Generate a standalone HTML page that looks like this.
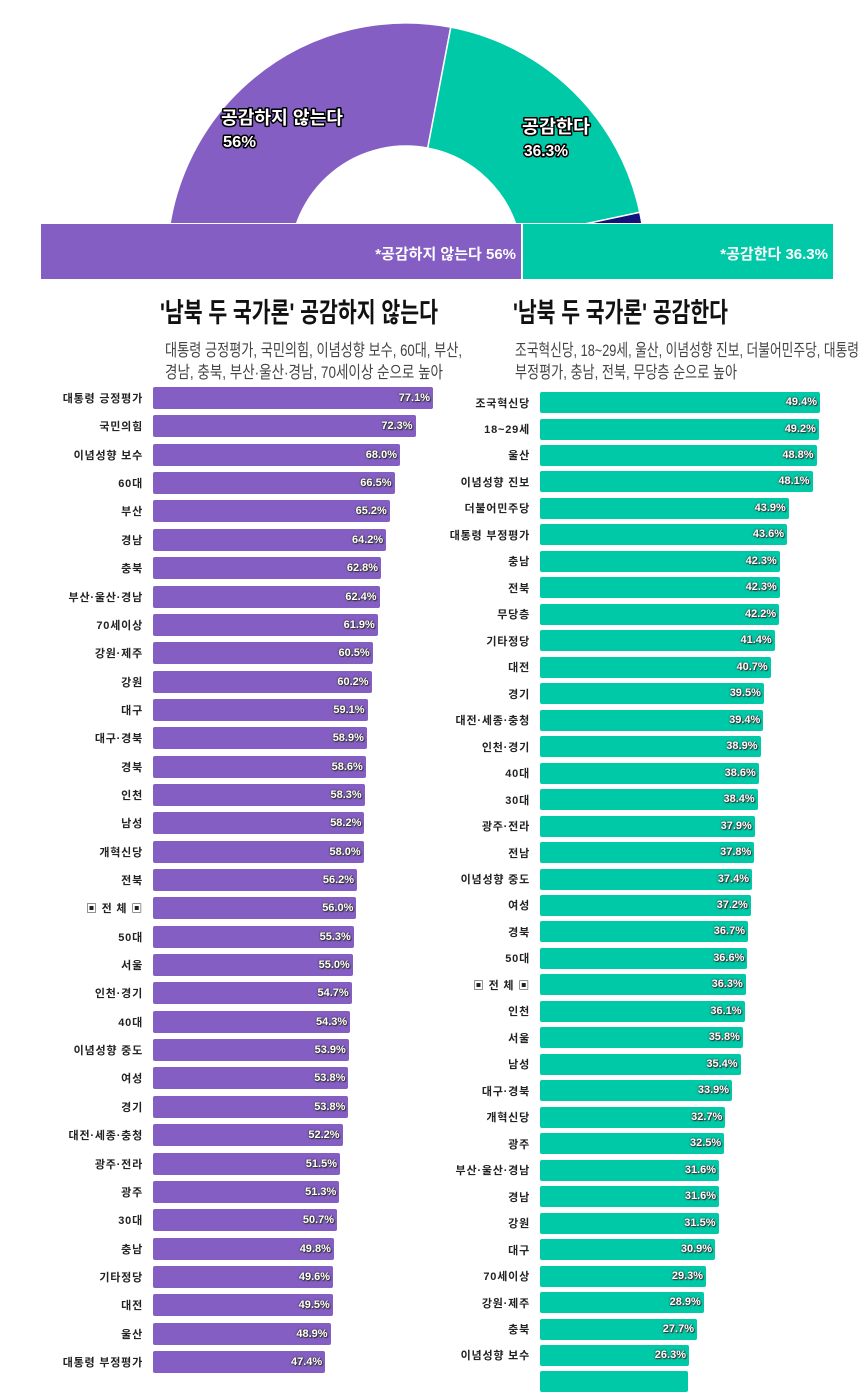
<!DOCTYPE html>
<html><head><meta charset="utf-8"><style>
body{margin:0;width:865px;height:1384px;overflow:hidden;background:#fff;position:relative;font-family:"Liberation Sans","Noto Sans CJK KR",sans-serif}
.r{position:absolute;height:22px;display:flex;align-items:center}
.L{left:0}.R{left:430px}
.lb{display:inline-block;text-align:right;font-size:11px;font-weight:bold;color:#222;letter-spacing:0.8px;margin-right:10px}
.L .lb{width:143px}.R .lb{width:100px}
.r b{display:inline-block;height:22px;line-height:22px;border-radius:2px;text-align:right;box-sizing:border-box;padding-right:3px;font-size:11px;color:#fff;text-shadow:0 0 1px #333,0 0 2px #333,1px 1px 1px #333}
.L b{background:#845ec2}.R b{background:#00c9a7;height:21px;line-height:21px}
</style></head><body>
<svg width="865" height="380" style="position:absolute;left:0;top:0" font-family="Liberation Sans, Noto Sans CJK KR, sans-serif">
<defs><clipPath id="c"><rect x="0" y="0" width="865" height="223"/></clipPath></defs>
<g clip-path="url(#c)" stroke="#fff" stroke-width="1.5">
<path d="M167,262 A239,239 0 0 1 450.8,27.2 L427.7,148.1 A116,116 0 0 0 290,262 Z" fill="#845ec2"/>
<path d="M450.8,27.2 A239,239 0 0 1 639.8,212.3 L519.5,237.9 A116,116 0 0 0 427.7,148.1 Z" fill="#00c9a7"/>
<path d="M639.8,212.3 A239,239 0 0 1 645,262 L522,262 A116,116 0 0 0 519.5,237.9 Z" fill="#14107a"/>
</g>
<g font-weight="bold" fill="#fff" stroke="#000" stroke-width="3" paint-order="stroke" stroke-linejoin="round">
<text x="221" y="124" font-size="18" textLength="122" lengthAdjust="spacingAndGlyphs">공감하지 않는다</text>
<text x="223" y="147" font-size="16" textLength="33" lengthAdjust="spacingAndGlyphs">56%</text>
<text x="522" y="133" font-size="18" textLength="68" lengthAdjust="spacingAndGlyphs">공감한다</text>
<text x="524" y="156" font-size="16" textLength="44" lengthAdjust="spacingAndGlyphs">36.3%</text>
</g>
<rect x="41" y="224" width="480" height="55" fill="#845ec2"/>
<rect x="523" y="224" width="310" height="55" fill="#00c9a7"/>
<text x="516" y="259" font-size="15" font-weight="bold" fill="#fff" text-anchor="end">*공감하지 않는다 56%</text>
<text x="828" y="259" font-size="15" font-weight="bold" fill="#fff" text-anchor="end">*공감한다 36.3%</text>
<text x="160" y="322" font-size="27" font-weight="bold" fill="#111" textLength="278" lengthAdjust="spacingAndGlyphs">'남북 두 국가론' 공감하지 않는다</text>
<text x="165" y="356" font-size="17" fill="#444" textLength="297" lengthAdjust="spacingAndGlyphs">대통령 긍정평가, 국민의힘, 이념성향 보수, 60대, 부산,</text>
<text x="165" y="378" font-size="17" fill="#444" textLength="278" lengthAdjust="spacingAndGlyphs">경남, 충북, 부산·울산·경남, 70세이상 순으로 높아</text>
<text x="513" y="322" font-size="27" font-weight="bold" fill="#111" textLength="215" lengthAdjust="spacingAndGlyphs">'남북 두 국가론' 공감한다</text>
<text x="515" y="356" font-size="17" fill="#444" textLength="344" lengthAdjust="spacingAndGlyphs">조국혁신당, 18~29세, 울산, 이념성향 진보, 더불어민주당, 대통령</text>
<text x="515" y="378" font-size="17" fill="#444" textLength="222" lengthAdjust="spacingAndGlyphs">부정평가, 충남, 전북, 무당층 순으로 높아</text>
</svg>

<div class="r L" style="top:387px"><span class="lb">대통령 긍정평가</span><b style="width:280px">77.1%</b></div>
<div class="r L" style="top:415.4px"><span class="lb">국민의힘</span><b style="width:262.6px">72.3%</b></div>
<div class="r L" style="top:443.7px"><span class="lb">이념성향 보수</span><b style="width:247px">68.0%</b></div>
<div class="r L" style="top:472.1px"><span class="lb">60대</span><b style="width:241.5px">66.5%</b></div>
<div class="r L" style="top:500.4px"><span class="lb">부산</span><b style="width:236.8px">65.2%</b></div>
<div class="r L" style="top:528.8px"><span class="lb">경남</span><b style="width:233.2px">64.2%</b></div>
<div class="r L" style="top:557.1px"><span class="lb">충북</span><b style="width:228.1px">62.8%</b></div>
<div class="r L" style="top:585.5px"><span class="lb">부산·울산·경남</span><b style="width:226.6px">62.4%</b></div>
<div class="r L" style="top:613.8px"><span class="lb">70세이상</span><b style="width:224.8px">61.9%</b></div>
<div class="r L" style="top:642.2px"><span class="lb">강원·제주</span><b style="width:219.7px">60.5%</b></div>
<div class="r L" style="top:670.5px"><span class="lb">강원</span><b style="width:218.6px">60.2%</b></div>
<div class="r L" style="top:698.9px"><span class="lb">대구</span><b style="width:214.6px">59.1%</b></div>
<div class="r L" style="top:727.2px"><span class="lb">대구·경북</span><b style="width:213.9px">58.9%</b></div>
<div class="r L" style="top:755.6px"><span class="lb">경북</span><b style="width:212.8px">58.6%</b></div>
<div class="r L" style="top:783.9px"><span class="lb">인천</span><b style="width:211.7px">58.3%</b></div>
<div class="r L" style="top:812.3px"><span class="lb">남성</span><b style="width:211.4px">58.2%</b></div>
<div class="r L" style="top:840.6px"><span class="lb">개혁신당</span><b style="width:210.7px">58.0%</b></div>
<div class="r L" style="top:869px"><span class="lb">전북</span><b style="width:204.1px">56.2%</b></div>
<div class="r L" style="top:897.3px"><span class="lb">▣ 전 체 ▣</span><b style="width:203.4px">56.0%</b></div>
<div class="r L" style="top:925.7px"><span class="lb">50대</span><b style="width:200.8px">55.3%</b></div>
<div class="r L" style="top:954px"><span class="lb">서울</span><b style="width:199.8px">55.0%</b></div>
<div class="r L" style="top:982.4px"><span class="lb">인천·경기</span><b style="width:198.7px">54.7%</b></div>
<div class="r L" style="top:1010.7px"><span class="lb">40대</span><b style="width:197.2px">54.3%</b></div>
<div class="r L" style="top:1039.1px"><span class="lb">이념성향 중도</span><b style="width:195.8px">53.9%</b></div>
<div class="r L" style="top:1067.4px"><span class="lb">여성</span><b style="width:195.4px">53.8%</b></div>
<div class="r L" style="top:1095.8px"><span class="lb">경기</span><b style="width:195.4px">53.8%</b></div>
<div class="r L" style="top:1124.1px"><span class="lb">대전·세종·충청</span><b style="width:189.6px">52.2%</b></div>
<div class="r L" style="top:1152.5px"><span class="lb">광주·전라</span><b style="width:187px">51.5%</b></div>
<div class="r L" style="top:1180.8px"><span class="lb">광주</span><b style="width:186.3px">51.3%</b></div>
<div class="r L" style="top:1209.2px"><span class="lb">30대</span><b style="width:184.1px">50.7%</b></div>
<div class="r L" style="top:1237.5px"><span class="lb">충남</span><b style="width:180.9px">49.8%</b></div>
<div class="r L" style="top:1265.9px"><span class="lb">기타정당</span><b style="width:180.1px">49.6%</b></div>
<div class="r L" style="top:1294.2px"><span class="lb">대전</span><b style="width:179.8px">49.5%</b></div>
<div class="r L" style="top:1322.6px"><span class="lb">울산</span><b style="width:177.6px">48.9%</b></div>
<div class="r L" style="top:1350.9px"><span class="lb">대통령 부정평가</span><b style="width:172.2px">47.4%</b></div>

<div class="r R" style="top:391.5px"><span class="lb">조국혁신당</span><b style="width:280px">49.4%</b></div>
<div class="r R" style="top:418px"><span class="lb">18~29세</span><b style="width:278.9px">49.2%</b></div>
<div class="r R" style="top:444.4px"><span class="lb">울산</span><b style="width:276.6px">48.8%</b></div>
<div class="r R" style="top:470.9px"><span class="lb">이념성향 진보</span><b style="width:272.6px">48.1%</b></div>
<div class="r R" style="top:497.4px"><span class="lb">더불어민주당</span><b style="width:248.8px">43.9%</b></div>
<div class="r R" style="top:523.9px"><span class="lb">대통령 부정평가</span><b style="width:247.1px">43.6%</b></div>
<div class="r R" style="top:550.3px"><span class="lb">충남</span><b style="width:239.8px">42.3%</b></div>
<div class="r R" style="top:576.8px"><span class="lb">전북</span><b style="width:239.8px">42.3%</b></div>
<div class="r R" style="top:603.3px"><span class="lb">무당층</span><b style="width:239.2px">42.2%</b></div>
<div class="r R" style="top:629.7px"><span class="lb">기타정당</span><b style="width:234.7px">41.4%</b></div>
<div class="r R" style="top:656.2px"><span class="lb">대전</span><b style="width:230.7px">40.7%</b></div>
<div class="r R" style="top:682.7px"><span class="lb">경기</span><b style="width:223.9px">39.5%</b></div>
<div class="r R" style="top:709.1px"><span class="lb">대전·세종·충청</span><b style="width:223.3px">39.4%</b></div>
<div class="r R" style="top:735.6px"><span class="lb">인천·경기</span><b style="width:220.5px">38.9%</b></div>
<div class="r R" style="top:762.1px"><span class="lb">40대</span><b style="width:218.8px">38.6%</b></div>
<div class="r R" style="top:788.6px"><span class="lb">30대</span><b style="width:217.7px">38.4%</b></div>
<div class="r R" style="top:815px"><span class="lb">광주·전라</span><b style="width:214.8px">37.9%</b></div>
<div class="r R" style="top:841.5px"><span class="lb">전남</span><b style="width:214.3px">37.8%</b></div>
<div class="r R" style="top:868px"><span class="lb">이념성향 중도</span><b style="width:212px">37.4%</b></div>
<div class="r R" style="top:894.4px"><span class="lb">여성</span><b style="width:210.8px">37.2%</b></div>
<div class="r R" style="top:920.9px"><span class="lb">경북</span><b style="width:208px">36.7%</b></div>
<div class="r R" style="top:947.4px"><span class="lb">50대</span><b style="width:207.4px">36.6%</b></div>
<div class="r R" style="top:973.8px"><span class="lb">▣ 전 체 ▣</span><b style="width:205.8px">36.3%</b></div>
<div class="r R" style="top:1000.3px"><span class="lb">인천</span><b style="width:204.6px">36.1%</b></div>
<div class="r R" style="top:1026.8px"><span class="lb">서울</span><b style="width:202.9px">35.8%</b></div>
<div class="r R" style="top:1053.3px"><span class="lb">남성</span><b style="width:200.6px">35.4%</b></div>
<div class="r R" style="top:1079.7px"><span class="lb">대구·경북</span><b style="width:192.1px">33.9%</b></div>
<div class="r R" style="top:1106.2px"><span class="lb">개혁신당</span><b style="width:185.3px">32.7%</b></div>
<div class="r R" style="top:1132.7px"><span class="lb">광주</span><b style="width:184.2px">32.5%</b></div>
<div class="r R" style="top:1159.1px"><span class="lb">부산·울산·경남</span><b style="width:179.1px">31.6%</b></div>
<div class="r R" style="top:1185.6px"><span class="lb">경남</span><b style="width:179.1px">31.6%</b></div>
<div class="r R" style="top:1212.1px"><span class="lb">강원</span><b style="width:178.5px">31.5%</b></div>
<div class="r R" style="top:1238.5px"><span class="lb">대구</span><b style="width:175.1px">30.9%</b></div>
<div class="r R" style="top:1265px"><span class="lb">70세이상</span><b style="width:166.1px">29.3%</b></div>
<div class="r R" style="top:1291.5px"><span class="lb">강원·제주</span><b style="width:163.8px">28.9%</b></div>
<div class="r R" style="top:1318px"><span class="lb">충북</span><b style="width:157px">27.7%</b></div>
<div class="r R" style="top:1344.4px"><span class="lb">이념성향 보수</span><b style="width:149px">26.3%</b></div>
<div class="r R" style="top:1370.9px"><span class="lb"></span><b style="width:148px"></b></div>
</body></html>
